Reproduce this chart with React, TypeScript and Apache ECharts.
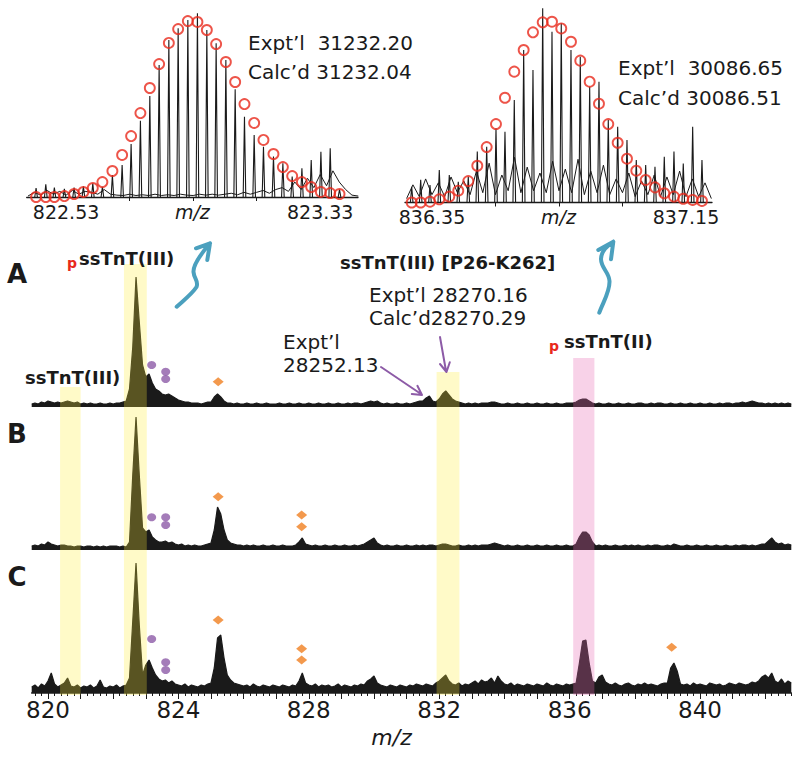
import React, { useEffect, useRef } from "react";
import * as echarts from "echarts";

// ---------------- main spectra (relative intensity, sampled every 0.1 m/z from 819.5) ----------------
const mzStart = 819.5;
const mzStep = 0.1;
const mzMin = 819.5;
const mzMax = 842.8;

const spectrumA = [
  3, 4, 3, 5, 4, 6, 5, 4, 5, 4, 5, 6, 5, 4, 5, 3, 4, 3, 4, 3, 3, 4, 3, 3, 4, 3, 4, 4, 5, 6,
  18, 60, 130, 85, 42, 30, 33, 24, 18, 16, 13, 12, 13, 11, 9, 7, 6, 5, 5, 4, 4, 4, 3, 4, 5,
  5, 10, 13, 10, 6, 4, 4, 3, 4, 3, 3, 4, 3, 3, 4, 3, 3, 4, 3, 3, 3, 4, 3, 3, 4, 3, 3, 4, 3, 3,
  4, 3, 3, 4, 3, 3, 4, 3, 3, 4, 3, 3, 4, 3, 4, 4, 3, 4, 5, 6, 5, 6, 4, 3, 4, 3, 3, 4, 3, 3,
  4, 3, 4, 5, 6, 6, 9, 11, 6, 5, 8, 13, 16, 12, 8, 6, 5, 4, 3, 4, 3, 4, 3, 4, 4, 4, 5, 5, 4, 3,
  3, 4, 3, 3, 4, 3, 3, 4, 3, 3, 4, 3, 3, 4, 3, 3, 4, 3, 3, 4, 4, 4, 5, 7, 8, 8, 6, 4, 3, 4,
  3, 3, 4, 3, 3, 4, 3, 3, 4, 3, 3, 4, 4, 3, 3, 4, 3, 4, 4, 3, 3, 4, 3, 3, 4, 3, 3, 4, 3, 3,
  4, 3, 3, 4, 3, 3, 4, 3, 4, 4, 3, 4, 4, 5, 4, 5, 6, 5, 4, 4, 3, 4, 3, 4, 3, 4, 3, 4, 3,
];

const spectrumB = [
  4, 5, 4, 6, 5, 8, 6, 5, 4, 5, 5, 4, 4, 3, 4, 4, 3, 4, 4, 3, 4, 3, 4, 3, 4, 4, 4, 3, 4, 3,
  8, 75, 133, 75, 22, 18, 20, 13, 10, 8, 8, 9, 7, 8, 6, 5, 6, 4, 5, 4, 5, 4, 4, 5, 6,
  7, 20, 43, 36, 20, 10, 7, 6, 5, 5, 4, 5, 4, 5, 4, 4, 5, 4, 4, 5, 4, 4, 5, 4, 4, 4, 5, 8, 12, 6,
  5, 4, 5, 4, 4, 5, 4, 4, 5, 4, 4, 5, 4, 4, 5, 4, 5, 6, 8, 10, 12, 7, 5, 4, 5, 4, 4, 5, 4, 4,
  5, 4, 4, 5, 4, 5, 4, 5, 5, 4, 5, 6, 6, 5, 4, 4, 5, 4, 4, 5, 4, 5, 4, 5, 5, 5, 6, 7, 6, 5,
  4, 5, 4, 4, 5, 4, 4, 5, 4, 4, 5, 4, 4, 5, 4, 4, 5, 4, 4, 5, 4, 4, 6, 13, 18, 18, 15, 8, 4, 5,
  4, 5, 4, 4, 5, 4, 4, 5, 4, 5, 4, 5, 4, 4, 5, 4, 5, 5, 4, 4, 5, 4, 6, 5, 4, 4, 5, 4, 4, 5,
  4, 4, 5, 4, 4, 5, 4, 4, 5, 4, 4, 5, 4, 5, 5, 4, 5, 4, 5, 6, 6, 9, 12, 8, 6, 7, 5, 6, 5,
];

const spectrumC = [
  6, 8, 5, 9, 7, 12, 20, 9, 6, 8, 10, 15, 7, 6, 8, 5, 7, 6, 8, 5, 7, 13, 6, 5, 7, 6, 8, 5, 7, 8,
  15, 72, 130, 68, 18, 28, 33, 25, 18, 14, 12, 13, 10, 12, 9, 8, 7, 9, 6, 8, 7, 6, 8, 7, 9,
  10, 25, 55, 58, 35, 18, 13, 10, 9, 8, 7, 8, 6, 9, 7, 6, 8, 7, 6, 8, 7, 6, 8, 7, 6, 8, 7, 12, 20, 10,
  8, 7, 9, 6, 8, 7, 8, 6, 7, 9, 6, 8, 7, 6, 8, 7, 9, 8, 12, 14, 17, 10, 8, 7, 6, 8, 7, 6, 8, 7,
  6, 8, 7, 9, 8, 7, 9, 8, 7, 10, 12, 15, 18, 12, 9, 8, 10, 7, 9, 8, 10, 12, 9, 13, 11, 12, 15, 10, 17, 12,
  9, 8, 10, 7, 9, 8, 7, 9, 8, 7, 9, 8, 7, 10, 8, 7, 9, 8, 7, 9, 8, 9, 10, 30, 52, 53, 30, 12, 10, 16,
  18, 11, 9, 8, 10, 8, 7, 9, 10, 8, 7, 9, 8, 10, 8, 9, 8, 7, 9, 10, 10, 25, 30, 22, 9, 8, 9, 7, 10, 8,
  9, 8, 7, 10, 9, 8, 9, 7, 8, 10, 9, 8, 10, 9, 8, 9, 11, 10, 12, 16, 18, 15, 20, 12, 10, 14, 9, 12, 10,
];

const xTickLabels = [820, 824, 828, 832, 836, 840];
const xMajorTicks = [820, 821, 822, 823, 824, 825, 826, 827, 828, 829, 830, 831, 832, 833, 834, 835, 836, 837, 838, 839, 840, 841, 842];

// marker symbols (m/z, intensity)
const purpleA = [[823.18, 42], [823.61, 35.3], [823.61, 28]];
const orangeA = [[825.22, 25.3]];
const purpleB = [[823.18, 32.7], [823.61, 32.7], [823.61, 25]];
const orangeB = [[825.22, 53.3], [827.78, 35], [827.78, 23.3]];
const purpleC = [[823.18, 54], [823.61, 30.7], [823.61, 23]];
const orangeC = [[825.22, 73], [827.78, 44.3], [827.78, 33], [839.13, 45.7]];

// highlighted m/z windows
const bandStart = [820.37, 822.33, 831.92, 836.11];
const bandEnd = [821.0, 823.03, 832.62, 836.76];

// ---------------- inset 1 (pssTnT(III)) ----------------
const inset1IsotopeMz = [
  822.4355, 822.4661, 822.4931, 822.5246, 822.5552, 822.5845, 822.6141, 822.6443, 822.6758, 822.7064, 822.7347,
  822.764, 822.7936, 822.8229, 822.8535, 822.8828, 822.9133, 822.9435, 822.9731, 823.0024, 823.033, 823.0623,
  823.0916, 823.1221, 823.1514, 823.1829, 823.2125, 823.2418, 823.2724, 823.3017, 823.3322, 823.3615, 823.3908,
];
const inset1Theory = [
  0, 0, 0, 0.5, 1.6, 2.7, 4.8, 8, 13.9, 22.5, 32.6, 44.9, 58.3, 71.1, 82.4, 89.8, 94.1, 93.6, 89.3, 81.8, 72.2,
  61.5, 49.7, 39.6, 30.5, 23, 16, 11.2, 8, 5.3, 2.7, 2.1, 1.6,
];
const inset1Observed = [
  4.8, 6.8, 5, 4.3, 5, 5.7, 7.3, 5.5, 11.8, 17.1, 28.3, 40.8, 54, 70.6, 84, 90.2, 94.7, 98.2, 89.3, 82.2, 73.3,
  57.6, 42.9, 33.2, 26.9, 21.6, 18, 10.9, 15.3, 19.8, 24.2, 26, 4,
];
const inset1NoiseStart = 822.41;
const inset1Noise = [
  0.5, 2.5, 1, 3.5, 1.5, 3, 1, 3.5, 1.5, 3, 2.5, 1.5, 4, 1.5, 1, 0.8, 1.5, 0.8, 1.2, 0.8, 1.5, 0.8, 1.2, 0.8, 1.5,
  1, 0.8, 1.5, 1, 1.5, 1, 1.5, 2, 1.2, 2.5, 1.5, 2.5, 3.5, 2, 4, 5, 3, 8, 4, 10, 5, 12, 6, 14, 8, 4, 1, 0.5,
];
const inset1TickLabels = [822.53, 823.33];
const inset1Ticks = [822.73, 822.93, 823.13];

// ---------------- inset 2 (pssTnT(II)) ----------------
const inset2IsotopeMz = [
  836.2861, 836.3144, 836.3437, 836.373, 836.4045, 836.4328, 836.4643, 836.4927, 836.5223, 836.5516, 836.5799,
  836.6092, 836.6388, 836.6681, 836.6987, 836.728, 836.7572, 836.7878, 836.8171, 836.8467, 836.876, 836.9053,
  836.9349, 836.9642, 836.9935, 837.0231, 837.0524, 837.0817, 837.1122, 837.1415, 837.1711, 837.2004,
];
const inset2Theory = [
  0, 0, 0.4, 1.6, 3, 6, 10.9, 18.7, 28.2, 39.9, 53.3, 66.6, 77.6, 86.6, 91.7, 92, 88.6, 81.8, 72.2, 61.5, 50.3,
  39.9, 30.4, 22.3, 16.2, 11.5, 7.7, 4.7, 3, 1.9, 1.3, 0.8,
];
const inset2Observed = [
  8, 11.5, 8.9, 16.5, 14, 10.6, 13.1, 25.9, 28.4, 37.8, 36, 52.2, 77.6, 67.4, 98.8, 86.9, 91.2, 77.6, 74.2, 58.9,
  61.5, 42, 38.6, 31.8, 21.6, 19.1, 18.2, 23.3, 25.9, 19.9, 38.6, 21.6,
];
const inset2NoiseStart = 836.27;
const inset2Noise = [
  2, 9, 3, 12, 4, 10, 3, 13, 5, 11, 4, 16, 5, 20, 4, 14, 6, 23, 5, 18, 6, 15, 5, 21, 6, 17, 5, 22, 4, 16, 5, 19,
  4, 12, 5, 15, 3, 11, 4, 14, 3, 13, 4, 16, 3, 12, 3, 10, 2,
];
const inset2TickLabels = [836.35, 837.15];
const inset2Ticks = [836.55, 836.75, 836.95];
const noiseStep = 0.02;

// ---------------- styling / layout ----------------
const FONT = "'DejaVu Sans', sans-serif";
const INK = "#1a1a1a";
const RED = "#E8291C";
const PURPLE = "#8D5BA7";
const ORANGE = "#F08021";
const TEAL = "#4BA0BE";
const bandFills = [
  "rgba(255,237,59,0.28)",
  "rgba(255,237,59,0.28)",
  "rgba(255,237,59,0.28)",
  "rgba(232,105,178,0.30)",
];
const bandTopPx = [308, 431, 323, 337];

const tealArrow1 =
  "M176.7,306.7 C184,300 192,294 196.5,287 C199,281 194,279 193.5,272 C193,265 200,255 210,243.3 M196,248.3 L210,243.3 L207.3,260";
const tealArrow2 =
  "M599.3,312.7 C603,302 610,292 609.5,281 C609,272 601,268 601,259 C601,252 607,246 613.3,241.7 M598.3,250 L613.3,241.7 L611,259.3";
const purpleArrow1 = "M381,367 L421,394 M411.8,394 L422,395 L417.4,385.8";
const purpleArrow2 = "M440,337 L446,371 M440,364 L446.5,372 L449.8,362.3";

echarts.graphic.registerShape("tealArrow1", echarts.graphic.extendPath(tealArrow1, {}));
echarts.graphic.registerShape("tealArrow2", echarts.graphic.extendPath(tealArrow2, {}));
echarts.graphic.registerShape("purpleArrow1", echarts.graphic.extendPath(purpleArrow1, {}));
echarts.graphic.registerShape("purpleArrow2", echarts.graphic.extendPath(purpleArrow2, {}));

function sampled(values: number[], start: number, step: number) {
  return values.map((v, i) => [Math.round((start + i * step) * 1000) / 1000, v]);
}

const spikeRenderer = (_params: any, api: any) => {
  const top = api.coord([api.value(0), api.value(1)]);
  const base = api.coord([api.value(0), 0]);
  return {
    type: "polyline",
    shape: { points: [[top[0] - 1.3, base[1]], [top[0], top[1]], [top[0] + 1.3, base[1]]] },
    style: { stroke: INK, lineWidth: 1.1, fill: "none" },
  };
};

function txt(text: string, x: number, y: number, size: number, opts: any = {}) {
  const align = opts.align || "left";
  return {
    type: "text",
    x,
    y,
    z: 20,
    silent: true,
    style: {
      text,
      fill: opts.color || INK,
      font: `${opts.italic ? "italic " : ""}${opts.bold ? "bold " : ""}${size}px ${FONT}`,
      align,
      textAlign: align,
      verticalAlign: "middle",
      textVerticalAlign: "middle",
    },
  };
}

function insetXAxis(gridIndex: number, min: number, max: number, ticks: number[], labels: number[]) {
  return {
    type: "value",
    gridIndex,
    min,
    max,
    axisLine: { show: true, lineStyle: { color: INK, width: 1.3 } },
    axisTick: { show: true, customValues: ticks, length: 4, lineStyle: { color: INK, width: 1 } },
    axisLabel: {
      show: true,
      customValues: labels,
      formatter: (v: number) => v.toFixed(2),
      fontSize: 19,
      fontFamily: FONT,
      color: INK,
      margin: 5,
    },
    splitLine: { show: false },
    name: "m/z",
    nameLocation: "middle",
    nameGap: 5,
    nameMoveOverlap: false,
    nameTextStyle: { fontStyle: "italic", fontSize: 19, fontFamily: FONT, color: INK, verticalAlign: "top" },
  };
}

function hiddenX(gridIndex: number) {
  return { type: "value", gridIndex, min: mzMin, max: mzMax, show: false };
}
function hiddenY(gridIndex: number, max: number) {
  return { type: "value", gridIndex, min: 0, max, show: false };
}

function traceSeries(axis: number, values: number[]) {
  return {
    type: "line",
    xAxisIndex: axis,
    yAxisIndex: axis,
    data: sampled(values, mzStart, mzStep),
    showSymbol: false,
    symbol: "none",
    silent: true,
    z: 2,
    lineStyle: { color: INK, width: 1.2 },
    areaStyle: { color: INK, opacity: 1 },
  };
}

function markerSeries(axis: number, data: number[][], kind: "purple" | "orange") {
  return {
    type: "scatter",
    xAxisIndex: axis,
    yAxisIndex: axis,
    data,
    silent: true,
    clip: false,
    z: 6,
    symbol: kind === "purple" ? "circle" : "diamond",
    symbolSize: kind === "purple" ? [9, 8] : [11, 9],
    itemStyle: { color: kind === "purple" ? PURPLE : ORANGE },
  };
}

function insetSeries(axis: number, mz: number[], theory: number[], observed: number[], noiseStart: number, noise: number[]) {
  return [
    {
      type: "line",
      xAxisIndex: axis,
      yAxisIndex: axis,
      data: sampled(noise, noiseStart, noiseStep),
      showSymbol: false,
      symbol: "none",
      silent: true,
      z: 2,
      lineStyle: { color: INK, width: 1 },
    },
    {
      type: "custom",
      xAxisIndex: axis,
      yAxisIndex: axis,
      silent: true,
      z: 3,
      data: mz.map((m, i) => [m, observed[i]]),
      renderItem: spikeRenderer,
    },
    {
      type: "scatter",
      xAxisIndex: axis,
      yAxisIndex: axis,
      silent: true,
      clip: false,
      z: 4,
      data: mz.map((m, i) => [m, theory[i]]),
      symbol: "circle",
      symbolSize: 10,
      itemStyle: { color: "rgba(0,0,0,0)", borderColor: RED, borderWidth: 1.9 },
    },
  ];
}

function buildOption() {
  const minorTicks: number[] = [];
  for (let k = Math.ceil(mzMin * 5); k <= Math.floor(mzMax * 5); k++) {
    if (k % 5 !== 0) minorTicks.push(k / 5);
  }
  const mainLeft = 31.7;
  const mainWidth = 759.6;
  return {
    animation: false,
    backgroundColor: "#ffffff",
    grid: [
      { left: 26.7, top: 10, width: 331.3, height: 187 },
      { left: 405, top: 6, width: 307, height: 196.5 },
      { left: mainLeft, top: 267, width: mainWidth, height: 140 },
      { left: mainLeft, top: 410, width: mainWidth, height: 140 },
      { left: mainLeft, top: 553, width: mainWidth, height: 140 },
      { left: mainLeft, top: 250, width: mainWidth, height: 445 },
    ],
    xAxis: [
      insetXAxis(0, 822.406, 823.449, inset1Ticks, inset1TickLabels),
      insetXAxis(1, 836.265, 837.232, inset2Ticks, inset2TickLabels),
      hiddenX(2),
      hiddenX(3),
      {
        type: "value",
        gridIndex: 4,
        min: mzMin,
        max: mzMax,
        axisLine: { show: true, lineStyle: { color: INK, width: 1.5 } },
        axisTick: { show: true, customValues: xMajorTicks, length: 6, lineStyle: { color: INK, width: 1 } },
        axisLabel: {
          show: true,
          customValues: xTickLabels,
          fontSize: 23,
          fontFamily: FONT,
          color: INK,
          margin: 5,
        },
        splitLine: { show: false },
        name: "m/z",
        nameLocation: "middle",
        nameGap: 33,
        nameTextStyle: { fontStyle: "italic", fontSize: 22, fontFamily: FONT, color: INK, padding: [0, 40, 0, 0] },
      },
      {
        type: "value",
        gridIndex: 4,
        position: "bottom",
        min: mzMin,
        max: mzMax,
        axisLine: { show: false },
        axisTick: { show: true, customValues: minorTicks, length: 3, lineStyle: { color: INK, width: 1 } },
        axisLabel: { show: false },
        splitLine: { show: false },
      },
      hiddenX(5),
    ],
    yAxis: [hiddenY(0, 100), hiddenY(1, 100), hiddenY(2, 140), hiddenY(3, 140), hiddenY(4, 140), hiddenY(5, 445)],
    series: [
      ...insetSeries(0, inset1IsotopeMz, inset1Theory, inset1Observed, inset1NoiseStart, inset1Noise),
      ...insetSeries(1, inset2IsotopeMz, inset2Theory, inset2Observed, inset2NoiseStart, inset2Noise),
      traceSeries(2, spectrumA),
      traceSeries(3, spectrumB),
      traceSeries(4, spectrumC),
      markerSeries(2, purpleA, "purple"),
      markerSeries(2, orangeA, "orange"),
      markerSeries(3, purpleB, "purple"),
      markerSeries(3, orangeB, "orange"),
      markerSeries(4, purpleC, "purple"),
      markerSeries(4, orangeC, "orange"),
      {
        type: "custom",
        xAxisIndex: 6,
        yAxisIndex: 5,
        silent: true,
        z: 8,
        encode: { x: [0, 1], y: 2 },
        data: bandStart.map((s, i) => [s, bandEnd[i], bandTopPx[i]]),
        renderItem: (params: any, api: any) => {
          const p0 = api.coord([api.value(0), api.value(2)]);
          const p1 = api.coord([api.value(1), 0]);
          return {
            type: "rect",
            shape: { x: p0[0], y: p0[1], width: p1[0] - p0[0], height: p1[1] - p0[1] },
            style: { fill: bandFills[params.dataIndex] },
          };
        },
      },
    ],
    graphic: [
      txt("Expt\u2019l  31232.20", 248, 43, 20),
      txt("Calc\u2019d 31232.04", 248, 72, 20),
      txt("Expt\u2019l  30086.65", 618, 68, 20),
      txt("Calc\u2019d 30086.51", 618, 98, 20),
      txt("A", 17, 274, 26, { bold: true, align: "center" }),
      txt("B", 17, 434, 26, { bold: true, align: "center" }),
      txt("C", 17, 577, 26, { bold: true, align: "center" }),
      txt("p", 67, 263, 14, { bold: true, color: RED }),
      txt("ssTnT(III)", 79, 258, 18, { bold: true }),
      txt("ssTnT(III)", 25, 377, 18, { bold: true }),
      txt("ssTnT(III) [P26-K262]", 340, 262, 18, { bold: true }),
      txt("Expt\u2019l 28270.16", 369, 295, 20),
      txt("Calc\u2019d28270.29", 369, 318, 20),
      txt("Expt\u2019l", 283, 342, 20),
      txt("28252.13", 283, 365, 20),
      txt("p", 549, 346, 14, { bold: true, color: RED }),
      txt("ssTnT(II)", 564, 341, 18, { bold: true }),
      {
        type: "tealArrow1",
        x: 0,
        y: 0,
        z: 20,
        silent: true,
        style: { stroke: TEAL, lineWidth: 4, fill: "none", lineCap: "round", lineJoin: "round" },
      },
      {
        type: "tealArrow2",
        x: 0,
        y: 0,
        z: 20,
        silent: true,
        style: { stroke: TEAL, lineWidth: 4, fill: "none", lineCap: "round", lineJoin: "round" },
      },
      {
        type: "purpleArrow1",
        x: 0,
        y: 0,
        z: 20,
        silent: true,
        style: { stroke: PURPLE, lineWidth: 2, fill: "none", lineCap: "round", lineJoin: "round" },
      },
      {
        type: "purpleArrow2",
        x: 0,
        y: 0,
        z: 20,
        silent: true,
        style: { stroke: PURPLE, lineWidth: 2, fill: "none", lineCap: "round", lineJoin: "round" },
      },
    ],
  };
}

export default function App() {
  const ref = useRef<HTMLDivElement>(null);
  useEffect(() => {
    if (!ref.current) return;
    const chart = echarts.init(ref.current, undefined, { renderer: "svg" });
    chart.setOption(buildOption() as any);
    return () => chart.dispose();
  }, []);
  return (
    <div
      ref={ref}
      style={{ position: "fixed", left: 0, top: 0, width: 800, height: 758, background: "#fff" }}
    />
  );
}
